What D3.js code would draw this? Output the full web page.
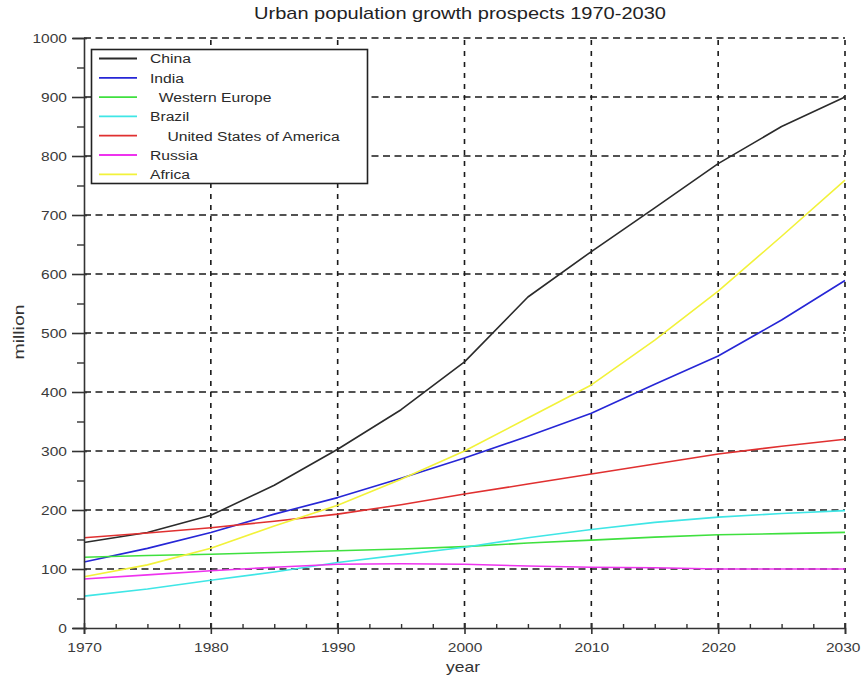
<!DOCTYPE html>
<html>
<head>
<meta charset="utf-8">
<script src="https://cdn.jsdelivr.net/npm/d3@7"></script>
<style>
  html, body { margin: 0; padding: 0; background: #fff; }
  svg { display: block; font-family: "Liberation Sans", Arial, sans-serif; }
  text { white-space: pre; }
</style>
</head>
<body>
<svg id="chart" width="861" height="682"></svg>
<script>
// Urban population (million), 5-year steps
const years = [1970, 1975, 1980, 1985, 1990, 1995, 2000, 2005, 2010, 2015, 2020, 2025, 2030];
const china   = [145, 162, 191, 242, 303, 370, 451, 561, 638, 712, 787, 850, 900];
const india   = [112, 135, 162, 193, 221, 254, 288, 325, 364, 413, 461, 522, 589];
const westernEurope = [120, 123, 125, 128, 131, 134, 138, 144, 149, 154, 158, 160, 162];
const brazil  = [54, 66, 81, 95, 111, 124, 137, 153, 167, 179, 188, 194, 199];
const usa     = [153, 161, 170, 181, 193, 209, 227, 244, 261, 278, 295, 308, 320];
const russia  = [83, 90, 97, 103, 108, 109, 108, 105, 103, 102, 100, 100, 100];
const africa  = [87, 107, 135, 173, 208, 252, 300, 356, 412, 488, 571, 664, 759];

const seriesNames = ["China", "India", "  Western Europe", "Brazil", "    United States of America", "Russia", "Africa"];
const seriesValues = [china, india, westernEurope, brazil, usa, russia, africa];
const seriesColors = ["#2b2b2b", "#2626d6", "#3fe03f", "#3fe6e6", "#e03030", "#ee33ee", "#f2f23a"];

const xTicks = [1970, 1980, 1990, 2000, 2010, 2020, 2030];
const xMinorTicks = d3.range(1970, 2030.01, 2.5).filter(v => v % 10 !== 0);
const yTicks = [0, 100, 200, 300, 400, 500, 600, 700, 800, 900, 1000];
const yMinorTicks = d3.range(50, 1000, 100);

const titleText = "Urban population growth prospects 1970-2030";
const xLabel = "year";
const yLabel = "million";

// layout
const L = 84, R = 845, T = 38, B = 628;
const sx = 1.15; // horizontal text stretch
const axisColor = "#333";

const svg = d3.select("#chart");
const x = d3.scaleLinear().domain([1970, 2030]).range([L, R]);
const y = d3.scaleLinear().domain([0, 1000]).range([B, T]);

// dashed grid
const grid = svg.append("g").attr("stroke", "#1a1a1a").attr("stroke-width", 1.6).attr("fill", "none");
grid.selectAll("line.h").data(yTicks.filter(v => v > 0)).join("line")
  .attr("class", "h")
  .attr("x1", L).attr("x2", R)
  .attr("y1", d => y(d)).attr("y2", d => y(d))
  .attr("stroke-dasharray", "7,4.5");
grid.selectAll("line.v").data(xTicks.filter(v => v > 1970)).join("line")
  .attr("class", "v")
  .attr("y1", B).attr("y2", T)
  .attr("x1", d => x(d)).attr("x2", d => x(d))
  .attr("stroke-dasharray", "5,6");

// series lines
const line = d3.line().x((d, i) => x(years[i])).y(d => y(d));
svg.append("g").selectAll("path").data(seriesValues).join("path")
  .attr("d", d => line(d))
  .attr("fill", "none")
  .attr("stroke", (d, i) => seriesColors[i])
  .attr("stroke-width", 1.6)
  .attr("stroke-linejoin", "round");

// x axis
const gx = svg.append("g").attr("transform", `translate(0,${B})`)
  .call(d3.axisBottom(x).tickValues(xTicks).tickFormat(d3.format("d")).tickSizeOuter(0).tickSize(6).tickPadding(0));
gx.select(".domain").attr("stroke", axisColor).attr("stroke-width", 1.6);
gx.selectAll(".tick line").attr("stroke", axisColor).attr("stroke-width", 1.6).attr("y1", -5).attr("y2", 6);
gx.selectAll(".tick text")
  .attr("y", null).attr("dy", null)
  .attr("transform", d => d === 2030 ? `translate(15,24) scale(${sx},1)` : `translate(0,24) scale(${sx},1)`)
  .attr("text-anchor", d => d === 2030 ? "end" : "middle")
  .attr("font-size", 13.5).attr("fill", "#3a3a3a")
  .attr("font-family", "Liberation Sans, Arial, sans-serif");

const gxMinor = svg.append("g").attr("transform", `translate(0,${B})`)
  .call(d3.axisTop(x).tickValues(xMinorTicks).tickFormat("").tickSize(4).tickSizeOuter(0));
gxMinor.select(".domain").remove();
gxMinor.selectAll(".tick line").attr("stroke", axisColor).attr("stroke-width", 1.4);

// y axis
const gy = svg.append("g").attr("transform", `translate(${L},0)`)
  .call(d3.axisLeft(y).tickValues(yTicks).tickFormat(d3.format("d")).tickSizeOuter(0).tickSize(11).tickPadding(0));
gy.select(".domain").attr("stroke", axisColor).attr("stroke-width", 1.6);
gy.selectAll(".tick line").attr("stroke", axisColor).attr("stroke-width", 1.6).attr("x2", -12).attr("x1", 3);
gy.selectAll(".tick text")
  .attr("x", null).attr("dy", null)
  .attr("dominant-baseline", "central")
  .attr("transform", `translate(-17,0) scale(${sx},1)`)
  .attr("font-size", 13.5).attr("fill", "#3a3a3a")
  .attr("font-family", "Liberation Sans, Arial, sans-serif");

const gyMinor = svg.append("g").attr("transform", `translate(${L},0)`)
  .call(d3.axisLeft(y).tickValues(yMinorTicks).tickFormat("").tickSize(7).tickSizeOuter(0));
gyMinor.select(".domain").remove();
gyMinor.selectAll(".tick line").attr("stroke", axisColor).attr("stroke-width", 1.4);

// title and axis labels
svg.append("text")
  .attr("x", 460).attr("y", 19)
  .attr("text-anchor", "middle")
  .attr("font-size", 17).attr("fill", "#222")
  .attr("textLength", 412).attr("lengthAdjust", "spacingAndGlyphs")
  .text(titleText);

svg.append("text")
  .attr("x", 463).attr("y", 672)
  .attr("text-anchor", "middle")
  .attr("font-size", 15).attr("fill", "#333")
  .attr("textLength", 34).attr("lengthAdjust", "spacingAndGlyphs")
  .text(xLabel);

svg.append("text")
  .attr("transform", "translate(24,332) rotate(-90)")
  .attr("text-anchor", "middle")
  .attr("font-size", 15).attr("fill", "#333")
  .attr("textLength", 55).attr("lengthAdjust", "spacingAndGlyphs")
  .text(yLabel);

// legend
const legend = svg.append("g");
legend.append("rect")
  .attr("x", 91.5).attr("y", 49.5).attr("width", 276).attr("height", 134)
  .attr("fill", "#fff").attr("stroke", "#222").attr("stroke-width", 1.6);
const rowY = i => 58.5 + i * 19.3;
const items = legend.selectAll("g.item").data(seriesNames).join("g").attr("class", "item");
items.append("line")
  .attr("x1", 99).attr("x2", 137)
  .attr("y1", (d, i) => rowY(i)).attr("y2", (d, i) => rowY(i))
  .attr("stroke", (d, i) => seriesColors[i]).attr("stroke-width", 1.8);
items.append("text")
  .attr("transform", (d, i) => `translate(150,${rowY(i) + 4.8}) scale(1.16,1)`)
  .attr("font-size", 13.5).attr("fill", "#2a2a2a")
  .text(d => d);
</script>
</body>
</html>
